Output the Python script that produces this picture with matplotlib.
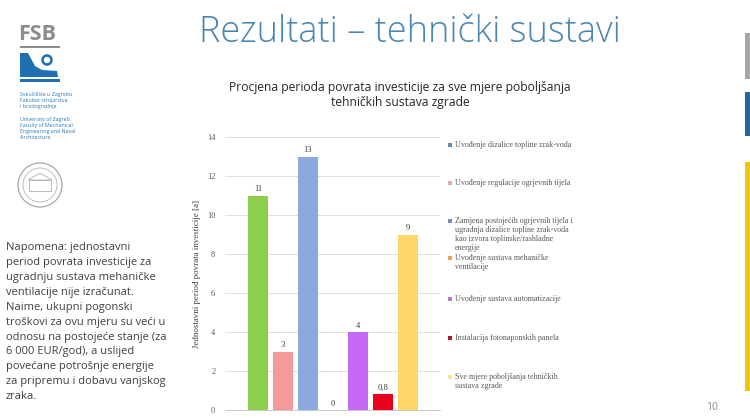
import numpy as np
import matplotlib
matplotlib.use("Agg")
import matplotlib.pyplot as plt
from matplotlib.patches import Rectangle, Polygon, Circle

# podaci
categories = [
    "Uvođenje dizalice topline zrak-voda",
    "Uvođenje regulacije ogrjevnih tijela",
    "Zamjena postojećih ogrjevnih tijela i\nugradnja dizalice topline zrak-voda\nkao izvora toplinske/rashladne\nenergije",
    "Uvođenje sustava mehaničke\nventilacije",
    "Uvođenje sustava automatizacije",
    "Instalacija fotonaponskih panela",
    "Sve mjere poboljšanja tehničkih\nsustava zgrade",
]
values = [11, 3, 13, 0, 4, 0.8, 9]
value_labels = ["11", "3", "13", "0", "4", "0,8", "9"]
y_ticks = [0, 2, 4, 6, 8, 10, 12, 14]

bar_colors = ["#8fcf4e", "#f49a9b", "#8ba9dc", "#f0a040", "#c568f5", "#e8001c", "#fdd668"]
key_colors = ["#6a8aab", "#e2aaa7", "#7290b8", "#e6a656", "#b77cc6", "#ad1a30", "#f3e88a"]
key_y = [145, 183, 221, 258, 299, 338, 377]

serif = "Liberation Serif"
sans = "Open Sans"

fig = plt.figure(figsize=(7.5, 4.18), dpi=100)

# pozadina / ukrasi slajda u pikselima
bg = fig.add_axes([0, 0, 1, 1])
bg.set_xlim(0, 750)
bg.set_ylim(418, 0)
bg.axis("off")

bg.text(410, 32, "Rezultati – tehnički sustavi", ha="center", va="center",
        fontsize=26, family=sans, fontweight="light", color="#4a86b3")

bg.text(400, 95, "Procjena perioda povrata investicije za sve mjere poboljšanja\ntehničkih sustava zgrade",
        ha="center", va="center", fontsize=8.7, family=sans, color="#262626", linespacing=1.2)

# FSB logo
bg.text(18, 34, "FSB", ha="left", va="center", fontsize=15.5, family=sans, fontweight="bold", color="#8c8c8c")
bg.add_patch(Rectangle((20, 45.5), 40, 2.5, color="#8c8c8c", lw=0))
bg.add_patch(Polygon([(20, 53), (28, 53), (35, 66), (42, 70), (57, 71), (58, 77), (20, 77)],
                     closed=True, color="#1f6fb2", lw=0))
bg.add_patch(Circle((47, 60), 4.5, fill=False, ec="#1f6fb2", lw=1.8))
bg.add_patch(Rectangle((20, 79), 40, 2.5, color="#1f6fb2", lw=0))
bg.text(20, 92, "Sveučilište u Zagrebu\nFakultet strojarstva\ni brodogradnje", ha="left", va="top",
        fontsize=3.8, family=sans, color="#2b78b8", linespacing=1.25)
bg.text(20, 117, "University of Zagreb\nFaculty of Mechanical\nEngineering and Naval\nArchitecture", ha="left", va="top",
        fontsize=3.8, family=sans, color="#2b78b8", linespacing=1.25)

# pecat
bg.add_patch(Circle((40, 185), 22, fill=False, ec="#a8a8a8", lw=0.9))
bg.add_patch(Circle((40, 185), 17, fill=False, ec="#b5b5b5", lw=0.6))
bg.add_patch(Rectangle((29, 180), 22, 11, fill=False, ec="#b0b0b0", lw=0.6))
bg.add_patch(Polygon([(28, 180), (40, 173), (52, 180)], closed=True, fill=False, ec="#b0b0b0", lw=0.6))

# napomena
note = ("Napomena: jednostavni\nperiod povrata investicije za\nugradnju sustava mehaničke\n"
        "ventilacije nije izračunat.\nNaime, ukupni pogonski\ntroškovi za ovu mjeru su veći u\n"
        "odnosu na postojeće stanje (za\n6 000 EUR/god), a uslijed\npovećane potrošnje energije\n"
        "za pripremu i dobavu vanjskog\nzraka.")
bg.text(6, 242, note, ha="left", va="top", fontsize=8.0, family=sans, color="#404040", linespacing=1.49)

# desne trake
bg.add_patch(Rectangle((745, 33), 5, 46, color="#a6a6a6", lw=0))
bg.add_patch(Rectangle((745, 92), 5, 44, color="#1f6aa5", lw=0))
bg.add_patch(Rectangle((745, 162), 5, 229, color="#f5c018", lw=0))
bg.text(712, 408, "10", ha="center", va="center", fontsize=7.5, family=sans, color="#8c8c8c")

# legenda (rucno, kao u Excelu)
for name, c, y in zip(categories, key_colors, key_y):
    bg.add_patch(Rectangle((448, y - 2), 4, 4, color=c, lw=0))
    bg.text(455, y - 4.4, name, ha="left", va="top", fontsize=5.8, family=serif,
            color="#595959", linespacing=1.18)

# graf
ax = fig.add_axes([225 / 750, 1 - 410 / 418, 215 / 750, 273 / 418])
x = np.arange(len(values))
ax.bar(x, values, width=0.8, color=bar_colors, zorder=3)
for xi, v, lab in zip(x, values, value_labels):
    ax.text(xi, v + 0.12, lab, ha="center", va="bottom", fontsize=6.2, family=serif, color="#404040")

ax.set_xlim(-1.32, 7.28)
ax.set_ylim(0, 14)
ax.set_yticks(y_ticks)
ax.set_yticklabels([str(t) for t in y_ticks], family=serif, fontsize=6.0, color="#595959")
ax.set_xticks([])
ax.tick_params(axis="y", length=0, pad=7)
ax.grid(axis="y", color="#d9d9d9", lw=0.6, zorder=0)
for s in ["top", "right", "left"]:
    ax.spines[s].set_visible(False)
ax.spines["bottom"].set_color("#bfbfbf")
ax.spines["bottom"].set_linewidth(0.6)
ax.set_ylabel("Jednostavni period povrata investicije [a]", family=serif, fontsize=6.4,
              color="#404040", labelpad=4)

fig.savefig("out.png", dpi=100)
